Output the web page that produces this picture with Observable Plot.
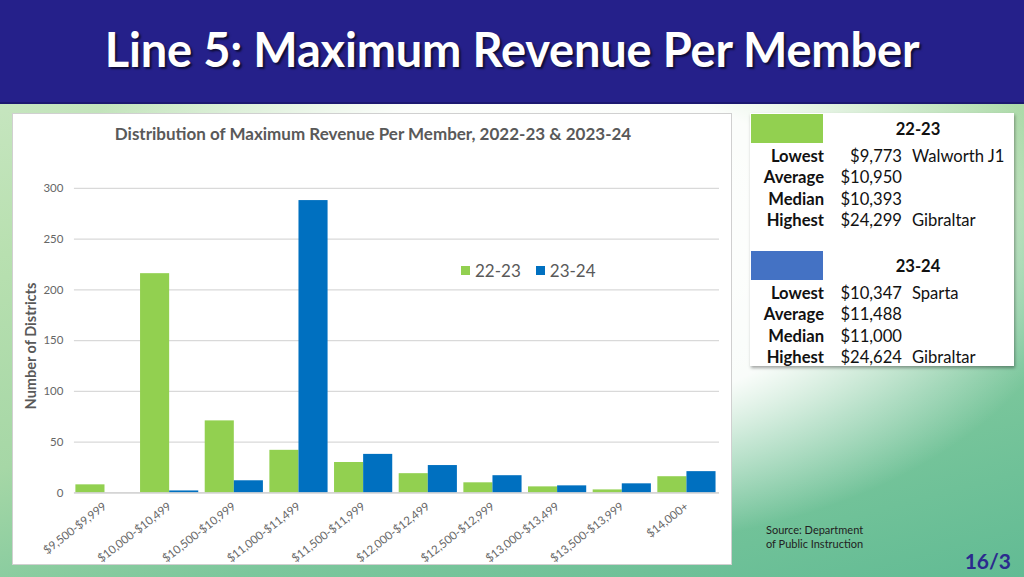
<!DOCTYPE html>
<html>
<head>
<meta charset="utf-8">
<script src="https://cdn.jsdelivr.net/npm/d3@7"></script>
<script src="https://cdn.jsdelivr.net/npm/@observablehq/plot@0.6"></script>
<style>
  html, body { margin: 0; padding: 0; }
  body { width: 1024px; height: 577px; overflow: hidden; font-family: Lato, "Open Sans", sans-serif; }
  #page {
    position: relative; width: 1024px; height: 577px; overflow: hidden;
    background:
      radial-gradient(ellipse 520px 300px at 560px 250px, rgba(255,255,255,1) 0%, rgba(255,255,255,0.95) 55%, rgba(255,255,255,0) 100%),
      linear-gradient(165deg, #cfe9c9 0%, #b8e0b0 30%, #a6d7a6 55%, #7cc79c 75%, #62bb94 100%);
  }
  #header {
    position: absolute; left: 0; top: 0; width: 1024px; height: 102px;
    background: #25208a; border-bottom: 2px solid #1c1870;
  }
  #header h1 {
    margin: 0; position: absolute; left: 0; right: 0; top: 21px; text-align: center;
    color: #fff; font: 700 47px Lato, sans-serif; letter-spacing: -0.2px;
    text-shadow: 2px 2px 2px rgba(0,0,0,0.6);
  }
  #chartPanel {
    position: absolute; left: 12px; top: 113px; width: 720px; height: 452px;
    background: #fff; border: 1px solid #d0d0d0; box-sizing: border-box;
  }
  #chartTitle {
    position: absolute; left: 0; width: 720px; top: 9px; text-align: center;
    font: 700 17px Lato, sans-serif; color: #595959;
  }
  #ylabel {
    position: absolute; left: 17px; top: 232px; width: 0; height: 0;
  }
  #ylabel span {
    position: absolute; transform: translate(-50%, -50%) rotate(-90deg); white-space: nowrap;
    font: 700 14.5px Lato, sans-serif; color: #595959;
  }
  #legend {
    position: absolute; left: 448px; top: 146px; font: 400 17px Lato, sans-serif; color: #595959;
    display: flex; align-items: center;
  }
  #legend .sw { display: inline-block; width: 9px; height: 9px; margin-right: 5px; }
  #legend .item { display: flex; align-items: center; margin-right: 15px; }
  #svgwrap { position: absolute; left: -1px; top: -1px; }
  #table {
    position: absolute; left: 750px; top: 113px; width: 264px; height: 253px;
    background: #fff; box-shadow: 1px 2px 3px rgba(0,0,0,0.35);
    font: 400 16.6px Lato, sans-serif; color: #111;
  }
  .tblock { position: absolute; left: 0; width: 264px; }
  .tblock .swatch { position: absolute; left: 1px; top: 1px; width: 72px; height: 29px; }
  .tblock .head { position: absolute; left: 130px; width: 76px; top: 6px; text-align: center; font-weight: 700; }
  .tblock .row { position: absolute; left: 0; width: 264px; height: 21px; }
  .tblock .lab { position: absolute; right: 190px; font-weight: 700; }
  .tblock .val { position: absolute; right: 112px; }
  .tblock .nm { position: absolute; left: 162px; }
  #source {
    position: absolute; left: 766px; top: 523px; font: 400 11px Lato, sans-serif; color: #222; line-height: 14px;
  }
  #pagenum {
    position: absolute; right: 13px; top: 548px; font: 700 21px Lato, sans-serif; color: #2b2a8e;
  }
</style>
</head>
<body>
<div id="page">
  <div id="header"><h1>Line 5: Maximum Revenue Per Member</h1></div>
  <div id="chartPanel">
    <div id="svgwrap"></div>
    <div id="chartTitle">Distribution of Maximum Revenue Per Member, 2022-23 &amp; 2023-24</div>
    <div id="ylabel"><span>Number of Districts</span></div>
    <div id="legend"></div>
  </div>
  <div id="table"></div>
  <div id="source">Source: Department<br>of Public Instruction</div>
  <div id="pagenum">16/3</div>
</div>
<script>
// ---------- data ----------
const categories = ["$9,500-$9,999", "$10,000-$10,499", "$10,500-$10,999", "$11,000-$11,499", "$11,500-$11,999",
  "$12,000-$12,499", "$12,500-$12,999", "$13,000-$13,499", "$13,500-$13,999", "$14,000+"];
const values2223 = [8, 216, 71, 42, 30, 19, 10, 6, 3, 16];
const values2324 = [0, 2, 12, 288, 38, 27, 17, 7, 9, 21];
const seriesNames = ["22-23", "23-24"];
const seriesColors = ["#92d050", "#0070c0"];
const yTicks = [0, 50, 100, 150, 200, 250, 300];

const statLabels = ["Lowest", "Average", "Median", "Highest"];
const stats2223 = ["$9,773", "$10,950", "$10,393", "$24,299"];
const names2223 = ["Walworth J1", "", "", "Gibraltar"];
const stats2324 = ["$10,347", "$11,488", "$11,000", "$24,624"];
const names2324 = ["Sparta", "", "", "Gibraltar"];
const tableSwatches = ["#92d050", "#4472c4"];

// ---------- chart ----------
const W = 720, H = 452, ML = 57, MR = 9, MT = 75, MB = 72;
const pad = 0.1;
const step = (W - ML - MR) / (categories.length - pad + 2 * pad);
const half = step * (1 - pad) / 2;

const d1 = categories.map((c, i) => ({cat: c, v: values2223[i]}));
const d2 = categories.map((c, i) => ({cat: c, v: values2324[i]}));

const chart = Plot.plot({
  width: W, height: H,
  marginLeft: ML, marginRight: MR, marginTop: MT, marginBottom: MB,
  style: {fontFamily: "Lato, sans-serif", fontSize: "11.5px", color: "#666", background: "transparent", overflow: "visible"},
  x: {domain: categories, padding: pad, round: false, label: null, tickSize: 0, tickPadding: 12, tickRotate: -38},
  y: {domain: [0, 300], ticks: yTicks, label: null, tickSize: 0, tickPadding: 6},
  marks: [
    Plot.ruleY(yTicks, {stroke: "#d9d9d9", strokeWidth: 1.2, insetLeft: 5, insetRight: 3}),
    Plot.barY(d1, {x: "cat", y: "v", fill: seriesColors[0], insetRight: half, insetLeft: 0}),
    Plot.barY(d2, {x: "cat", y: "v", fill: seriesColors[1], insetLeft: half, insetRight: 0}),
    Plot.ruleY([0], {stroke: "#d0d0d0", strokeWidth: 1.2, insetLeft: 5, insetRight: 3})
  ]
});
document.getElementById("svgwrap").appendChild(chart);

// legend
const leg = document.getElementById("legend");
seriesNames.forEach((s, i) => {
  const it = document.createElement("div");
  it.className = "item";
  it.innerHTML = `<span class="sw" style="background:${seriesColors[i]}"></span><span>${s}</span>`;
  leg.appendChild(it);
});

// table
const tbl = document.getElementById("table");
function block(top, color, head, vals, names) {
  const b = document.createElement("div");
  b.className = "tblock";
  b.style.top = top + "px";
  let html = `<div class="swatch" style="background:${color}"></div><div class="head">${head}</div>`;
  statLabels.forEach((l, i) => {
    html += `<div class="row" style="top:${32.5 + i * 21.5}px"><span class="lab">${l}</span><span class="val">${vals[i]}</span><span class="nm">${names[i]}</span></div>`;
  });
  b.innerHTML = html;
  tbl.appendChild(b);
}
block(0, tableSwatches[0], seriesNames[0], stats2223, names2223);
block(137, tableSwatches[1], seriesNames[1], stats2324, names2324);
</script>
</body>
</html>
